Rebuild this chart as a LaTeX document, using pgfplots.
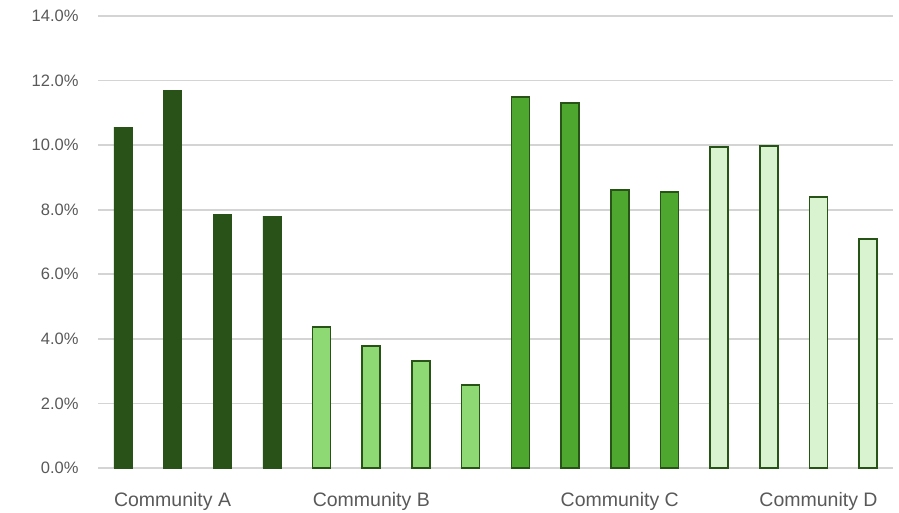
\documentclass[border=0pt]{standalone}
\usepackage{pgfplots}
\pgfplotsset{compat=1.18}
\usepackage{fontspec}
\setmainfont{Liberation Sans}
\definecolor{gA}{HTML}{295219}
\definecolor{gB}{HTML}{8ED973}
\definecolor{gC}{HTML}{4EA72E}
\definecolor{gD}{HTML}{D9F2D0}
\definecolor{edgec}{HTML}{275317}
\definecolor{gridc}{HTML}{D4D4D4}
\definecolor{txt}{HTML}{595959}
\begin{document}
\begin{tikzpicture}[x=1pt,y=1pt]
\useasboundingbox (0,0) rectangle (899,512);
\begin{axis}[
  at={(98pt,44pt)}, anchor=south west,
  scale only axis, width=795pt, height=452pt,
  xmin=-0.5, xmax=15.5, ymin=0, ymax=14,
  ytick={0,2,...,14},
  yticklabel={\pgfmathprintnumber[fixed,fixed zerofill,precision=1]{\tick}\%},
  /pgf/number format/assume math mode=true,
  xtick={1,5,10,14},
  xticklabels={Community A,Community B,Community C,Community D},
  major tick length=0pt,
  xmajorgrids=false, ymajorgrids=true,
  y grid style={draw=gridc, line width=1.6pt},
  axis line style={draw=none},
  yticklabel style={font=\fontsize{16.5}{18}\selectfont, text=txt, xshift=-16pt},
  xticklabel style={font=\fontsize{19.5}{21}\selectfont, text=txt, yshift=-21pt},
  ybar, bar width=18pt, bar shift=0pt,
  clip=false,
]
\addplot[fill=gA, draw=gA, line width=0.6pt] coordinates {(0,10.56) (1,11.70) (2,7.86) (3,7.80)};
\addplot[fill=gB, draw=edgec, line width=1.6pt] coordinates {(4,4.37) (5,3.78) (6,3.31) (7,2.57)};
\addplot[fill=gC, draw=edgec, line width=1.6pt] coordinates {(8,11.49) (9,11.30) (10,8.61) (11,8.54)};
\addplot[fill=gD, draw=edgec, line width=1.6pt] coordinates {(12,9.94) (13,9.97) (14,8.39) (15,7.09)};
\end{axis}
\end{tikzpicture}
\end{document}
